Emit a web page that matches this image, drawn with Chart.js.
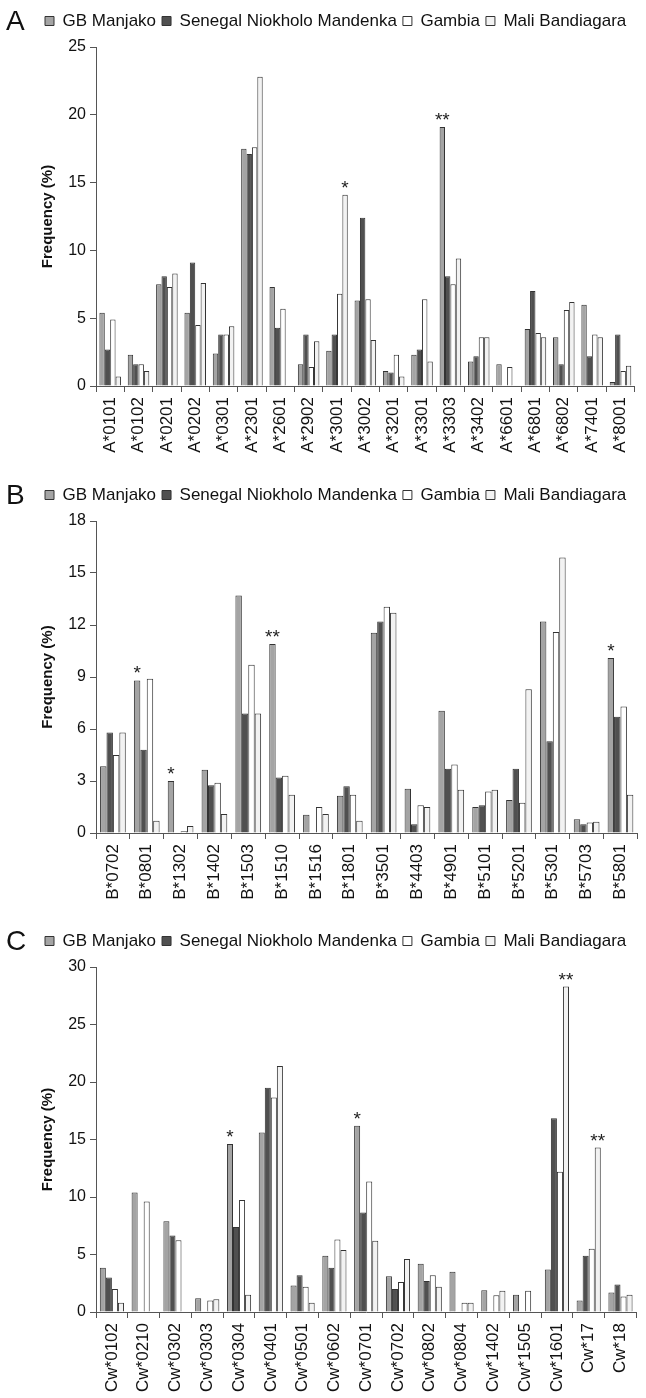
<!DOCTYPE html>
<html>
<head>
<meta charset="utf-8">
<script src="https://cdn.jsdelivr.net/npm/chart.js@4.4.1/dist/chart.umd.min.js"></script>
<style>
	body { margin: 0; background: #fff; width: 646px; height: 1398px; position: relative; overflow: hidden; font-family: "Liberation Sans", Arial, sans-serif; }
	.panel { position: absolute; left: 0; width: 646px; }
	.letter { position: absolute; left: 6px; font-size: 28px; color: #111; }
</style>
</head>
<body>
<div class="panel" style="top:0px"><canvas id="chartA" width="646" height="462"></canvas></div>
<div class="panel" style="top:470px"><canvas id="chartB" width="646" height="435"></canvas></div>
<div class="panel" style="top:918px"><canvas id="chartC" width="646" height="480"></canvas></div>
<div class="letter" style="top:5px">A</div>
<div class="letter" style="top:479px">B</div>
<div class="letter" style="top:925px">C</div>
<script>
// Series shared by all three panels
const seriesNames = ["GB Manjako", "Senegal Niokholo Mandenka", "Gambia", "Mali Bandiagara"];
const seriesColors = ["#a4a4a4", "#505050", "#ffffff", "#f2f2f2"];

// Panel A: HLA-A alleles
const allelesA = ["A*0101", "A*0102", "A*0201", "A*0202", "A*0301", "A*2301", "A*2601", "A*2902", "A*3001", "A*3002",
	"A*3201", "A*3301", "A*3303", "A*3402", "A*6601", "A*6801", "A*6802", "A*7401", "A*8001"];
const manjakoA = [5.4, 2.3, 7.5, 5.4, 2.4, 17.5, 7.3, 1.6, 2.6, 6.3, 1.1, 2.3, 19.1, 1.8, 1.6, 4.2, 3.6, 6.0, 0.3];
const mandenkaA = [2.7, 1.6, 8.1, 9.1, 3.8, 17.1, 4.3, 3.8, 3.8, 12.4, 1.0, 2.7, 8.1, 2.2, 0, 7.0, 1.6, 2.2, 3.8];
const gambiaA = [4.9, 1.6, 7.3, 4.5, 3.8, 17.6, 5.7, 1.4, 6.8, 6.4, 2.3, 6.4, 7.5, 3.6, 1.4, 3.9, 5.6, 3.8, 1.1];
const maliA = [0.7, 1.1, 8.3, 7.6, 4.4, 22.8, 0, 3.3, 14.1, 3.4, 0.7, 1.8, 9.4, 3.6, 0, 3.6, 6.2, 3.6, 1.5];
const yTicksA = [0, 5, 10, 15, 20, 25];
const starsA = [["A*3001", 3, "*"], ["A*3303", 0, "**"]];

// Panel B: HLA-B alleles
const allelesB = ["B*0702", "B*0801", "B*1302", "B*1402", "B*1503", "B*1510", "B*1516", "B*1801", "B*3501", "B*4403",
	"B*4901", "B*5101", "B*5201", "B*5301", "B*5703", "B*5801"];
const manjakoB = [3.85, 8.8, 3.0, 3.65, 13.7, 10.9, 1.05, 2.15, 11.55, 2.55, 7.05, 1.5, 1.9, 12.2, 0.8, 10.1];
const mandenkaB = [5.8, 4.8, 0, 2.75, 6.9, 3.2, 0, 2.7, 12.2, 0.5, 3.7, 1.6, 3.7, 5.3, 0.5, 6.7];
const gambiaB = [4.5, 8.9, 0.1, 2.9, 9.7, 3.3, 1.5, 2.2, 13.05, 1.6, 3.95, 2.4, 1.75, 11.6, 0.6, 7.3];
const maliB = [5.8, 0.7, 0.4, 1.1, 6.9, 2.2, 1.1, 0.7, 12.7, 1.5, 2.5, 2.5, 8.3, 15.9, 0.65, 2.2];
const yTicksB = [0, 3, 6, 9, 12, 15, 18];
const starsB = [["B*0801", 0, "*"], ["B*1302", 0, "*"], ["B*1510", 0, "**"], ["B*5801", 0, "*"]];

// Panel C: HLA-C alleles
const allelesC = ["Cw*0102", "Cw*0210", "Cw*0302", "Cw*0303", "Cw*0304", "Cw*0401", "Cw*0501", "Cw*0602", "Cw*0701",
	"Cw*0702", "Cw*0802", "Cw*0804", "Cw*1402", "Cw*1505", "Cw*1601", "Cw*17", "Cw*18"];
const manjakoC = [3.85, 10.4, 7.9, 1.2, 14.6, 15.6, 2.3, 4.9, 16.2, 3.1, 4.2, 3.5, 1.9, 1.5, 3.7, 1.0, 1.7];
const mandenkaC = [3.0, 0, 6.65, 0, 7.4, 19.5, 3.2, 3.85, 8.65, 2.0, 2.7, 0, 0, 0, 16.85, 4.9, 2.4];
const gambiaC = [2.0, 9.6, 6.25, 1.0, 9.75, 18.65, 2.2, 6.3, 11.35, 2.6, 3.2, 0.8, 1.45, 1.85, 12.2, 5.5, 1.35];
const maliC = [0.8, 0, 0, 1.1, 1.5, 21.4, 0.8, 5.4, 6.2, 4.6, 2.2, 0.8, 1.85, 0, 28.3, 14.3, 1.5];
const yTicksC = [0, 5, 10, 15, 20, 25, 30];
const starsC = [["Cw*0304", 0, "*"], ["Cw*0701", 0, "*"], ["Cw*1601", 3, "**"], ["Cw*17", 3, "**"]];

const FONT = "'Liberation Sans', Arial, sans-serif";
const INK = "#111";
const AXIS = "#555";

// draws the significance stars above the chosen bar
function starPlugin(marks) {
	return {
		id: "stars",
		afterDatasetsDraw(chart) {
			const ctx = chart.ctx;
			ctx.save();
			ctx.font = "19px " + FONT;
			ctx.fillStyle = "#222";
			ctx.textAlign = "center";
			ctx.textBaseline = "alphabetic";
			marks.forEach(([cat, ds, txt]) => {
				const i = chart.data.labels.indexOf(cat);
				const bar = chart.getDatasetMeta(ds).data[i];
				if (bar) ctx.fillText(txt, bar.x, bar.y - 1);
			});
			ctx.restore();
		},
	};
}

function makePanel(id, labels, values, yTicks, marks, area) {
	const options = {
		responsive: false,
		animation: false,
		layout: { padding: { top: 0, left: 39, right: 4, bottom: 0 } },
		plugins: {
			legend: {
				position: "top",
				align: "start",
				labels: {
					boxWidth: 9,
					boxHeight: 9,
					padding: 6,
					color: INK,
					font: { size: 17, family: FONT },
				},
			},
			tooltip: { enabled: false },
		},
		scales: {
			x: {
				grid: { display: true, drawOnChartArea: false, offset: true, tickLength: 6, color: AXIS },
				border: { display: true, color: AXIS, width: 1 },
				ticks: {
					autoSkip: false,
					maxRotation: 90,
					minRotation: 90,
					padding: 5,
					color: INK,
					font: { size: 17, family: FONT },
				},
				afterFit: function (s) { s.height = area.xHeight; },
			},
			y: {
				min: yTicks[0],
				max: yTicks[yTicks.length - 1],
				grid: { display: true, drawOnChartArea: false, tickLength: 6, color: AXIS },
				border: { display: true, color: AXIS, width: 1 },
				ticks: {
					stepSize: yTicks[1] - yTicks[0],
					padding: 4,
					color: INK,
					font: { size: 16, family: FONT },
				},
				title: {
					display: true,
					text: "Frequency (%)",
					color: INK,
					padding: { top: 0, bottom: 0 },
					font: { size: 15, weight: "bold", family: FONT },
				},
				afterFit: function (s) { s.width = area.yWidth; },
			},
		},
	};

	const chart = new Chart(document.getElementById(id).getContext("2d"), {
		type: "bar",
		data: {
			labels: labels,
			datasets: values.map((v, k) => ({
				label: seriesNames[k],
				data: v,
				backgroundColor: seriesColors[k],
				borderColor: "#333",
				borderWidth: 1,
				categoryPercentage: 0.76,
				barPercentage: 1.0,
			})),
		},
		options: options,
		plugins: [starPlugin(marks)],
	});

	// put the legend row and the plot top where the reference has them
	const legend = chart.legend;
	const hb = legend.legendHitBoxes[0];
	const shift = Math.max(0, area.legendY - (hb.top + hb.height / 2));
	options.layout.padding.top = shift;
	const extra = area.top - (chart.chartArea.top + shift);
	const fit = legend.fit;
	legend.fit = function () {
		fit.call(this);
		this.height += extra;
	};
	chart.update("none");
	return chart;
}

makePanel("chartA", allelesA, [manjakoA, mandenkaA, gambiaA, maliA], yTicksA, starsA,
	{ top: 47, legendY: 21, xHeight: 76, yWidth: 57 });
makePanel("chartB", allelesB, [manjakoB, mandenkaB, gambiaB, maliB], yTicksB, starsB,
	{ top: 51, legendY: 25, xHeight: 72, yWidth: 57 });
makePanel("chartC", allelesC, [manjakoC, mandenkaC, gambiaC, maliC], yTicksC, starsC,
	{ top: 49, legendY: 23, xHeight: 86, yWidth: 57 });
</script>
</body>
</html>
